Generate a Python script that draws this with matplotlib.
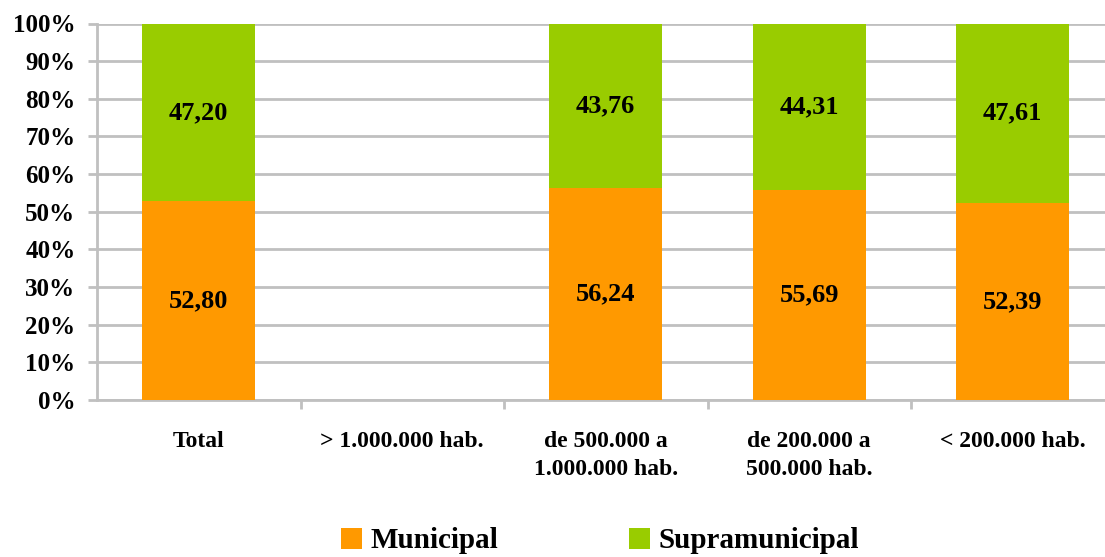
import matplotlib
matplotlib.use("Agg")
import matplotlib.pyplot as plt
import numpy as np

categories = ["Total", "> 1.000.000 hab.", "de 500.000 a\n1.000.000 hab.",
              "de 200.000 a\n500.000 hab.", "< 200.000 hab."]
municipal = [52.80, 0, 56.24, 55.69, 52.39]
supramunicipal = [47.20, 0, 43.76, 44.31, 47.61]
series_names = ["Municipal", "Supramunicipal"]
colors = ["#FF9900", "#99CC00"]

plt.rcParams['font.family'] = ['Liberation Serif', 'DejaVu Serif']
plt.rcParams['font.weight'] = 'bold'

W, H = 1105, 557
fig = plt.figure(figsize=(W/100, H/100), dpi=100)
left, right, top, bottom = 97, 1105, 23.5, 400
ax = fig.add_axes([left/W, (H-bottom)/H, (right-left)/W, (bottom-top)/H])

x = np.arange(len(categories))
slot = 203.5
bw = 113/slot
ax.bar(x, municipal, width=bw, color=colors[0], label=series_names[0], zorder=3)
ax.bar(x, supramunicipal, width=bw, bottom=municipal, color=colors[1], label=series_names[1], zorder=3)

for i in range(len(categories)):
    if municipal[i] > 0:
        ax.text(x[i], municipal[i]/2, f"{municipal[i]:.2f}".replace('.', ','),
                ha='center', va='center', fontsize=19, fontweight='bold', zorder=4)
    if supramunicipal[i] > 0:
        ax.text(x[i], municipal[i] + supramunicipal[i]/2, f"{supramunicipal[i]:.2f}".replace('.', ','),
                ha='center', va='center', fontsize=19, fontweight='bold', zorder=4)

ax.set_xlim(-0.5, -0.5 + (right-left)/slot)
ax.set_ylim(0, 100)
ax.set_yticks(np.arange(0, 101, 10))
ax.set_yticklabels([f"{v}%" for v in range(0, 101, 10)], fontsize=18, fontweight='bold')
ax.yaxis.grid(True, color='#C0C0C0', linewidth=2, zorder=0)
ax.set_axisbelow(True)

ax.set_xticks(x)
ax.set_xticklabels(categories, fontsize=17, fontweight='bold', linespacing=1.45, va='top')
ax.tick_params(axis='x', length=0, pad=22)
ax.set_xticks(np.arange(0.5, 4.5, 1.0), minor=True)
ax.tick_params(axis='x', which='minor', length=6.5, width=2, color='#C0C0C0', direction='out')
ax.tick_params(axis='y', length=6.5, width=2, color='#C0C0C0', pad=9)

for s in ['top', 'right']:
    ax.spines[s].set_visible(False)
ax.spines['left'].set_color('#C0C0C0')
ax.spines['left'].set_linewidth(2)
ax.spines['bottom'].set_color('#C0C0C0')
ax.spines['bottom'].set_linewidth(2)

leg = fig.legend(loc='center', bbox_to_anchor=(600/W, 1 - 541/H), ncol=2, frameon=False,
                 prop={'size': 21, 'weight': 'bold'}, handlelength=0.7, handleheight=0.7,
                 handletextpad=0.3, columnspacing=4.5)

fig.savefig("out.png", dpi=100)
